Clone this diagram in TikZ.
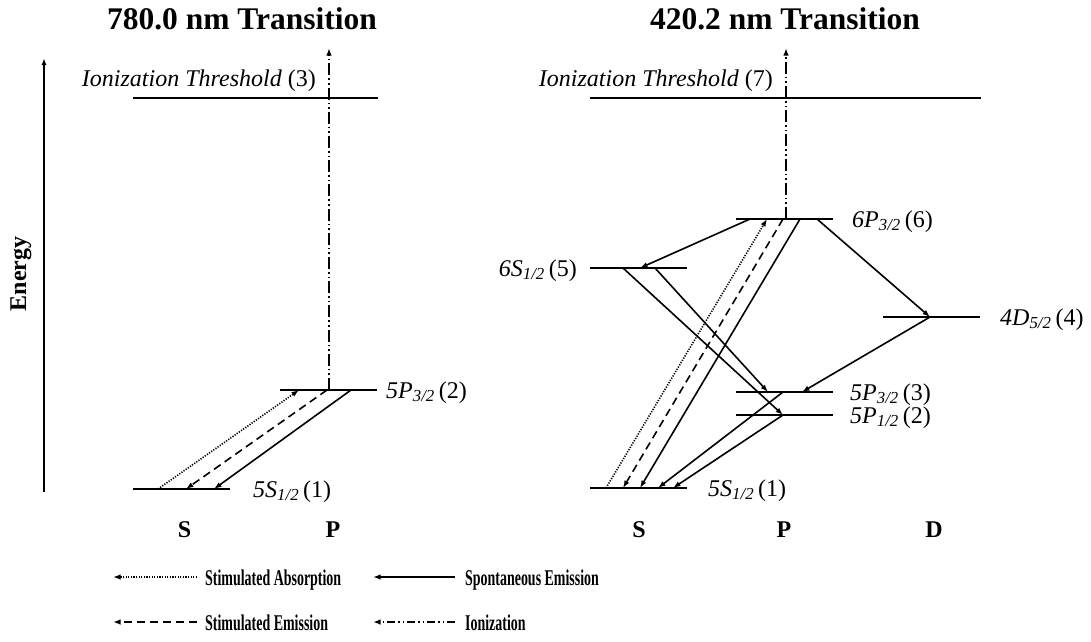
\documentclass[tikz,border=0pt]{standalone}
\usepackage{fontspec}
\usepackage{graphicx}
\setmainfont{Liberation Serif}
\usetikzlibrary{arrows.meta}
\tikzset{
  level/.style={line width=2pt},
  tr/.style={line width=1.6pt,-{Latex[length=7.5pt,width=5.5pt]}},
  absorb/.style={tr,dash pattern=on 1.2pt off 1.4pt},
  stimem/.style={tr,dash pattern=on 8pt off 5pt},
  spont/.style={tr},
  ion/.style={tr,dash pattern=on 12pt off 3pt on 1.6pt off 3pt on 1.6pt off 3pt},
  title/.style={font=\fontsize{31.5}{34}\selectfont\bfseries},
  lab/.style={font=\fontsize{24}{26}\selectfont,inner sep=0pt},
  axl/.style={font=\fontsize{24}{26}\selectfont\bfseries,inner sep=0pt},
  legt/.style={font=\fontsize{22.5}{24}\selectfont\bfseries,inner sep=0pt,anchor=base west}
}
\newcommand{\lvl}[3]{\textit{#1}\textsubscript{\textit{#2}}\,(#3)}
\newcommand{\legtext}[1]{\scalebox{0.62}[1]{#1}}
\begin{document}
\begin{tikzpicture}[x=1pt,y=-1pt]
\useasboundingbox (0,0) rectangle (1091,641);
% ---------- titles
\node[title,anchor=base] (t1) at (242,29) {780.0 nm Transition};
\node[title,anchor=base] (t2) at (785,29) {420.2 nm Transition};
% ---------- energy axis
\coordinate (ax0) at (44,492);
\coordinate (ax1) at (44,58);
\draw[line width=1.6pt,-{Latex[length=7pt,width=5pt]}] (ax0) -- (ax1);
\node[axl,rotate=90] (energy) at (21,274) {Energy};
% ---------- left diagram levels
\draw[level] (133,98) coordinate (lIa) -- (378,98) coordinate (lIb);
\draw[level] (280,390) coordinate (l5Pa) -- (377,390) coordinate (l5Pb);
\draw[level] (133,489) coordinate (l5Sa) -- (230,489) coordinate (l5Sb);
\node[lab,anchor=base east] (lIlab) at (316,86) {\textit{Ionization Threshold} (3)};
\node[lab,anchor=base west] (l5Plab) at (386,398) {\lvl{5P}{3/2}{2}};
\node[lab,anchor=base west] (l5Slab) at (253,497) {\lvl{5S}{1/2}{1}};
% left transitions
\coordinate (lion0) at (329,390);
\coordinate (lion1) at (329,48);
\draw[ion] (lion0) -- (lion1);
\coordinate (la0) at (158,489); \coordinate (la1) at (299,390);
\draw[absorb] (la0) -- (la1);
\coordinate (ld0) at (327,390); \coordinate (ld1) at (186,489);
\draw[stimem] (ld0) -- (ld1);
\coordinate (ls0) at (351,390); \coordinate (ls1) at (214,489);
\draw[spont] (ls0) -- (ls1);
% S P labels
\node[axl] (lS) at (184.5,530) {S};
\node[axl] (lP) at (333,530) {P};
% ---------- right diagram levels
\draw[level] (590,98) coordinate (rIa) -- (981,98) coordinate (rIb);
\draw[level] (736,219) coordinate (r6Pa) -- (833,219) coordinate (r6Pb);
\draw[level] (590,268) coordinate (r6Sa) -- (687,268) coordinate (r6Sb);
\draw[level] (883,317) coordinate (r4Da) -- (980,317) coordinate (r4Db);
\draw[level] (736,392) coordinate (r5P3a) -- (833,392) coordinate (r5P3b);
\draw[level] (736,415) coordinate (r5P1a) -- (833,415) coordinate (r5P1b);
\draw[level] (590,488) coordinate (r5Sa) -- (687,488) coordinate (r5Sb);
\node[lab,anchor=base east] (rIlab) at (773,86) {\textit{Ionization Threshold} (7)};
\node[lab,anchor=base west] (r6Plab) at (852,227) {\lvl{6P}{3/2}{6}};
\node[lab,anchor=base east] (r6Slab) at (577,276) {\lvl{6S}{1/2}{5}};
\node[lab,anchor=base west] (r4Dlab) at (1000,325) {\lvl{4D}{5/2}{4}};
\node[lab,anchor=base west] (r5P3lab) at (850,400) {\lvl{5P}{3/2}{3}};
\node[lab,anchor=base west] (r5P1lab) at (850,423) {\lvl{5P}{1/2}{2}};
\node[lab,anchor=base west] (r5Slab) at (708,496) {\lvl{5S}{1/2}{1}};
% right transitions
\coordinate (rion0) at (786,219);
\coordinate (rion1) at (786,48);
\draw[ion] (rion0) -- (rion1);
\coordinate (p1a) at (750,219); \coordinate (p1b) at (640,268);
\draw[spont] (p1a) -- (p1b);
\coordinate (p2a) at (606,488); \coordinate (p2b) at (767,219);
\draw[absorb] (p2a) -- (p2b);
\coordinate (p3a) at (783,219); \coordinate (p3b) at (623,488);
\draw[stimem] (p3a) -- (p3b);
\coordinate (p4a) at (800,219); \coordinate (p4b) at (640,488);
\draw[spont] (p4a) -- (p4b);
\coordinate (p5a) at (623,268); \coordinate (p5b) at (783,415);
\draw[spont] (p5a) -- (p5b);
\coordinate (p6a) at (655,268); \coordinate (p6b) at (768,392);
\draw[spont] (p6a) -- (p6b);
\coordinate (p7a) at (783,392); \coordinate (p7b) at (658,488);
\draw[spont] (p7a) -- (p7b);
\coordinate (p8a) at (783,415); \coordinate (p8b) at (673,488);
\draw[spont] (p8a) -- (p8b);
\coordinate (p9a) at (817,219); \coordinate (p9b) at (930,317);
\draw[spont] (p9a) -- (p9b);
\coordinate (p10a) at (930,317); \coordinate (p10b) at (802,392);
\draw[spont] (p10a) -- (p10b);
% S P D labels
\node[axl] (rS) at (639,530) {S};
\node[axl] (rP) at (784,530) {P};
\node[axl] (rD) at (934,530) {D};
% ---------- legend
\coordinate (g1a) at (197,577); \coordinate (g1b) at (113,577);
\draw[absorb] (g1a) -- (g1b);
\node[legt] (g1t) at (205,585) {\legtext{Stimulated Absorption}};
\coordinate (g2a) at (197,622); \coordinate (g2b) at (113,622);
\draw[stimem] (g2a) -- (g2b);
\node[legt] (g2t) at (205,630) {\legtext{Stimulated Emission}};
\coordinate (g3a) at (455,577); \coordinate (g3b) at (373,577);
\draw[spont] (g3a) -- (g3b);
\node[legt] (g3t) at (465,585) {\legtext{Spontaneous Emission}};
\coordinate (g4a) at (455,622); \coordinate (g4b) at (373,622);
\draw[ion,dash pattern=on 8pt off 3pt on 1.5pt off 3pt on 1.5pt off 3pt] (g4a) -- (g4b);
\node[legt] (g4t) at (465,630) {\legtext{Ionization}};
\end{tikzpicture}
\end{document}
